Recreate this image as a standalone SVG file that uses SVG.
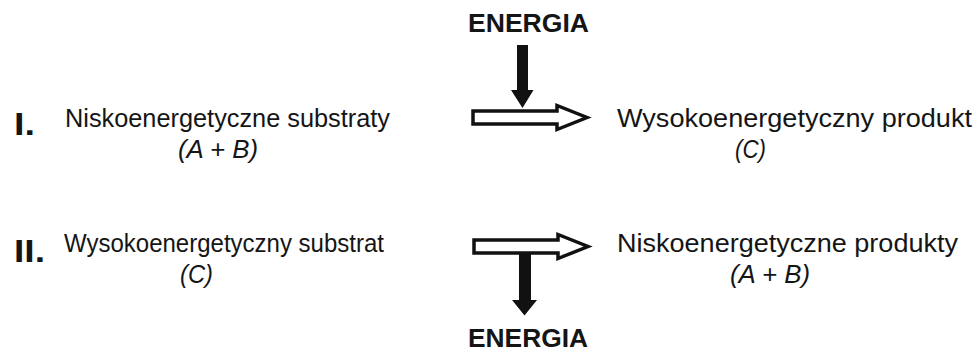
<svg xmlns="http://www.w3.org/2000/svg" width="979" height="351" viewBox="0 0 979 351">
  <style>
    .t { font-family: "Liberation Sans", Arial, sans-serif; fill: #151515; }
    .lbl { font-size: 25px; }
    .it { font-size: 25px; font-style: italic; }
    .b { font-weight: bold; }
    .hollow { fill: #ffffff; stroke: #111111; stroke-width: 3.5; stroke-linejoin: miter; }
    .solid { fill: #111111; }
  </style>
  <defs>
    <!-- open block arrow pointing right, drawn around y = 0 -->
    <path id="blockArrow" d="M473,-6.5 H557 V-12 L587,0 L557,12 V6.5 H473 Z"/>
  </defs>
  <rect width="979" height="351" fill="#ffffff"/>

  <!-- reaction I -->
  <g id="row1-label"><text class="t b" x="14" y="135" font-size="32" textLength="21" lengthAdjust="spacingAndGlyphs">I.</text></g>
  <g id="row1-substrates">
    <text class="t lbl" x="65" y="127" textLength="325" lengthAdjust="spacingAndGlyphs">Niskoenergetyczne substraty</text>
    <text class="t it" x="178" y="158" textLength="80" lengthAdjust="spacingAndGlyphs">(A + B)</text>
  </g>
  <g id="row1-product">
    <text class="t lbl" x="617" y="127" textLength="355" lengthAdjust="spacingAndGlyphs">Wysokoenergetyczny produkt</text>
    <text class="t it" x="735" y="158" textLength="31" lengthAdjust="spacingAndGlyphs">(C)</text>
  </g>
  <g id="energy-in">
    <text class="t b" x="468" y="32" font-size="25" textLength="121" lengthAdjust="spacingAndGlyphs">ENERGIA</text>
  </g>

  <!-- reaction II -->
  <g id="row2-label"><text class="t b" x="14" y="262" font-size="32" textLength="31" lengthAdjust="spacingAndGlyphs">II.</text></g>
  <g id="row2-substrate">
    <text class="t lbl" x="64" y="252" textLength="320" lengthAdjust="spacingAndGlyphs">Wysokoenergetyczny substrat</text>
    <text class="t it" x="180" y="283" textLength="33" lengthAdjust="spacingAndGlyphs">(C)</text>
  </g>
  <g id="row2-products">
    <text class="t lbl" x="617" y="252" textLength="341" lengthAdjust="spacingAndGlyphs">Niskoenergetyczne produkty</text>
    <text class="t it" x="730" y="283" textLength="80" lengthAdjust="spacingAndGlyphs">(A + B)</text>
  </g>
  <g id="energy-out">
    <text class="t b" x="468" y="347" font-size="25" textLength="120" lengthAdjust="spacingAndGlyphs">ENERGIA</text>
  </g>

  <!-- connectors -->
  <g id="connectors">
    <use href="#blockArrow" class="hollow" transform="translate(0,117.5)"/>
    <polygon class="solid" points="517,45 528,45 528,90 533.5,90 522.5,108 511,90 517,90"/>
    <use href="#blockArrow" class="hollow" transform="translate(1,246.5)"/>
    <polygon class="solid" points="519,254 531,254 531,300 537,300 524.5,315.5 512,300 519,300"/>
  </g>
</svg>
